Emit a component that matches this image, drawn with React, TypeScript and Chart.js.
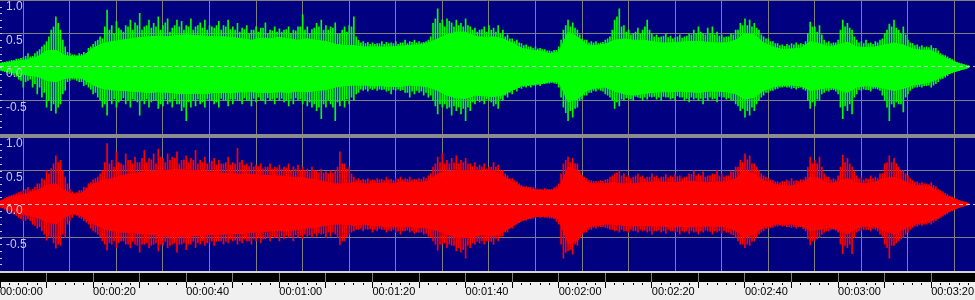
import React, { useEffect, useRef } from 'react';
import { Chart, registerables } from 'chart.js';

Chart.register(...registerables);

// ---------- axis definitions ----------
const X_MAX_S = 209.4;
const GRID_SECONDS = [0, 10, 20, 30, 40, 50, 60, 70, 80, 90, 100, 110, 120, 130, 140, 150, 160, 170, 180, 190, 200];
const LABEL_SECONDS = [0, 20, 40, 60, 80, 100, 120, 140, 160, 180, 200];
const TIME_LABELS = ['00:00:00', '00:00:20', '00:00:40', '00:01:00', '00:01:20', '00:01:40', '00:02:00', '00:02:20', '00:02:40', '00:03:00', '00:03:20'];
const Y_TICKS = [1, 0.5, 0, -0.5];
const Y_TICK_LABELS = ['1.0', '0.5', '0.0', '-0.5'];

const PEAK_STEP_S = 1; // spike samples: one per second, plus one at each half second
const HALF_OFFSET_S = 0.5;
const BODY_STEP_S = 2; // dense body envelope, one per two seconds

// ---------- left channel (green) ----------
const leftPeakTop = [
  0.06, 0.07, 0.09, 0.1, 0.12, 0.14, 0.2, 0.16, 0.23, 0.3,
  0.38, 0.55, 0.75, 0.55, 0.3, 0.2, 0.18, 0.2, 0.22, 0.28,
  0.34, 0.4, 0.42, 0.85, 0.62, 0.68, 0.55, 0.62, 0.7, 0.66,
  0.8, 0.6, 0.7, 0.65, 0.75, 0.62, 0.72, 0.58, 0.7, 0.68,
  0.62, 0.72, 0.6, 0.66, 0.7, 0.62, 0.58, 0.68, 0.62, 0.7,
  0.6, 0.65, 0.58, 0.62, 0.55, 0.6, 0.58, 0.66, 0.55, 0.6,
  0.57, 0.55, 0.6, 0.55, 0.6, 0.78, 0.6, 0.56, 0.65, 0.7,
  0.62, 0.6, 0.66, 0.5, 0.6, 0.62, 0.75, 0.4, 0.38, 0.37,
  0.36, 0.35, 0.38, 0.37, 0.36, 0.38, 0.36, 0.4, 0.38, 0.4,
  0.38, 0.37, 0.4, 0.65, 0.87, 0.7, 0.72, 0.66, 0.7, 0.65,
  0.72, 0.6, 0.58, 0.55, 0.6, 0.62, 0.58, 0.62, 0.55, 0.48,
  0.42, 0.4, 0.35, 0.33, 0.3, 0.3, 0.28, 0.26, 0.24, 0.25,
  0.3, 0.55, 0.7, 0.66, 0.55, 0.42, 0.4, 0.38, 0.38, 0.36,
  0.4, 0.45, 0.7, 0.87, 0.62, 0.55, 0.5, 0.58, 0.55, 0.7,
  0.5, 0.48, 0.45, 0.5, 0.46, 0.44, 0.48, 0.45, 0.5, 0.55,
  0.6, 0.5, 0.58, 0.6, 0.52, 0.48, 0.45, 0.5, 0.55, 0.65,
  0.72, 0.7, 0.65, 0.55, 0.45, 0.42, 0.38, 0.35, 0.33, 0.34,
  0.35, 0.36, 0.35, 0.38, 0.67, 0.6, 0.62, 0.4, 0.38, 0.36,
  0.4, 0.7, 0.65, 0.55, 0.4, 0.38, 0.4, 0.36, 0.38, 0.4,
  0.5, 0.64, 0.7, 0.55, 0.6, 0.4, 0.35, 0.33, 0.32, 0.3,
  0.32, 0.28, 0.2, 0.17, 0.13, 0.09, 0.06, 0.04, 0.02,
];
const leftPeakBottom = [
  -0.05, -0.07, -0.1, -0.12, -0.18, -0.3, -0.2, -0.3, -0.4, -0.45,
  -0.6, -0.65, -0.69, -0.55, -0.35, -0.2, -0.18, -0.22, -0.28, -0.3,
  -0.4, -0.45, -0.6, -0.72, -0.55, -0.6, -0.5, -0.55, -0.6, -0.5,
  -0.72, -0.55, -0.6, -0.5, -0.62, -0.58, -0.55, -0.6, -0.55, -0.65,
  -0.8, -0.6, -0.58, -0.55, -0.6, -0.5, -0.55, -0.6, -0.5, -0.58,
  -0.55, -0.5, -0.55, -0.5, -0.58, -0.52, -0.5, -0.55, -0.5, -0.55,
  -0.5, -0.52, -0.58, -0.55, -0.5, -0.55, -0.58, -0.6, -0.65, -0.77,
  -0.6, -0.55, -0.8, -0.58, -0.6, -0.55, -0.5, -0.38, -0.35, -0.36,
  -0.34, -0.35, -0.34, -0.36, -0.4, -0.35, -0.35, -0.38, -0.45, -0.4,
  -0.38, -0.42, -0.45, -0.5, -0.7, -0.6, -0.62, -0.72, -0.65, -0.7,
  -0.8, -0.65, -0.55, -0.52, -0.55, -0.5, -0.58, -0.62, -0.5, -0.45,
  -0.4, -0.36, -0.32, -0.3, -0.3, -0.28, -0.28, -0.25, -0.24, -0.24,
  -0.3, -0.6, -0.8, -0.75, -0.6, -0.48, -0.42, -0.38, -0.36, -0.35,
  -0.4, -0.45, -0.62, -0.58, -0.5, -0.48, -0.5, -0.45, -0.5, -0.48,
  -0.45, -0.48, -0.5, -0.45, -0.48, -0.5, -0.45, -0.5, -0.52, -0.48,
  -0.5, -0.55, -0.5, -0.48, -0.52, -0.45, -0.48, -0.5, -0.55, -0.65,
  -0.75, -0.72, -0.65, -0.5, -0.42, -0.38, -0.35, -0.32, -0.3, -0.3,
  -0.32, -0.33, -0.3, -0.35, -0.62, -0.58, -0.5, -0.38, -0.36, -0.34,
  -0.4, -0.77, -0.65, -0.7, -0.4, -0.35, -0.34, -0.36, -0.32, -0.35,
  -0.5, -0.8, -0.6, -0.55, -0.67, -0.4, -0.32, -0.3, -0.3, -0.28,
  -0.3, -0.25, -0.18, -0.15, -0.1, -0.07, -0.05, -0.03, -0.01,
];
const leftHalfTop = [
  0.07, 0.08, 0.1, 0.12, 0.13, 0.16, 0.15, 0.2, 0.26, 0.33,
  0.45, 0.6, 0.65, 0.4, 0.22, 0.18, 0.17, 0.19, 0.2, 0.3,
  0.38, 0.45, 0.6, 0.55, 0.5, 0.58, 0.52, 0.6, 0.55, 0.62,
  0.55, 0.62, 0.58, 0.6, 0.55, 0.66, 0.52, 0.62, 0.6, 0.55,
  0.6, 0.55, 0.62, 0.58, 0.55, 0.6, 0.62, 0.55, 0.6, 0.56,
  0.55, 0.52, 0.56, 0.5, 0.55, 0.52, 0.58, 0.5, 0.54, 0.52,
  0.52, 0.56, 0.5, 0.54, 0.6, 0.55, 0.5, 0.58, 0.6, 0.55,
  0.55, 0.58, 0.5, 0.55, 0.52, 0.6, 0.45, 0.36, 0.35, 0.34,
  0.34, 0.35, 0.34, 0.35, 0.35, 0.34, 0.36, 0.35, 0.37, 0.36,
  0.36, 0.38, 0.45, 0.72, 0.65, 0.6, 0.68, 0.6, 0.62, 0.6,
  0.62, 0.55, 0.52, 0.56, 0.52, 0.55, 0.52, 0.5, 0.45, 0.42,
  0.38, 0.36, 0.32, 0.3, 0.28, 0.27, 0.26, 0.24, 0.23, 0.25,
  0.4, 0.62, 0.6, 0.58, 0.48, 0.4, 0.36, 0.36, 0.35, 0.37,
  0.42, 0.55, 0.75, 0.6, 0.52, 0.48, 0.52, 0.5, 0.6, 0.55,
  0.45, 0.44, 0.46, 0.44, 0.42, 0.45, 0.43, 0.46, 0.48, 0.5,
  0.52, 0.48, 0.5, 0.48, 0.46, 0.44, 0.45, 0.48, 0.55, 0.62,
  0.62, 0.6, 0.58, 0.48, 0.42, 0.38, 0.35, 0.32, 0.31, 0.32,
  0.33, 0.33, 0.34, 0.5, 0.6, 0.52, 0.48, 0.36, 0.35, 0.36,
  0.55, 0.6, 0.58, 0.45, 0.36, 0.35, 0.35, 0.34, 0.36, 0.42,
  0.55, 0.6, 0.58, 0.5, 0.48, 0.36, 0.32, 0.3, 0.29, 0.29,
  0.28, 0.24, 0.18, 0.15, 0.11, 0.07, 0.05, 0.03,
];
const leftHalfBottom = [
  -0.06, -0.08, -0.11, -0.14, -0.2, -0.22, -0.18, -0.25, -0.3, -0.38,
  -0.5, -0.55, -0.6, -0.4, -0.22, -0.18, -0.2, -0.22, -0.26, -0.33,
  -0.38, -0.5, -0.55, -0.5, -0.48, -0.52, -0.46, -0.5, -0.48, -0.52,
  -0.5, -0.48, -0.52, -0.5, -0.55, -0.48, -0.52, -0.48, -0.55, -0.6,
  -0.52, -0.5, -0.48, -0.52, -0.48, -0.5, -0.52, -0.47, -0.5, -0.48,
  -0.48, -0.5, -0.46, -0.5, -0.47, -0.45, -0.5, -0.46, -0.48, -0.46,
  -0.47, -0.5, -0.48, -0.46, -0.48, -0.5, -0.52, -0.55, -0.6, -0.55,
  -0.5, -0.6, -0.52, -0.5, -0.48, -0.45, -0.4, -0.33, -0.33, -0.32,
  -0.32, -0.33, -0.33, -0.35, -0.34, -0.33, -0.34, -0.38, -0.36, -0.35,
  -0.36, -0.38, -0.42, -0.58, -0.55, -0.55, -0.6, -0.58, -0.6, -0.62,
  -0.6, -0.52, -0.5, -0.5, -0.48, -0.52, -0.55, -0.48, -0.42, -0.38,
  -0.34, -0.31, -0.29, -0.28, -0.27, -0.26, -0.25, -0.24, -0.23, -0.25,
  -0.45, -0.68, -0.65, -0.62, -0.5, -0.42, -0.38, -0.35, -0.33, -0.36,
  -0.42, -0.5, -0.52, -0.48, -0.46, -0.48, -0.44, -0.46, -0.45, -0.44,
  -0.44, -0.45, -0.44, -0.45, -0.46, -0.43, -0.45, -0.47, -0.45, -0.46,
  -0.47, -0.46, -0.45, -0.47, -0.44, -0.45, -0.46, -0.5, -0.58, -0.62,
  -0.65, -0.6, -0.55, -0.45, -0.38, -0.35, -0.33, -0.3, -0.29, -0.3,
  -0.31, -0.31, -0.33, -0.5, -0.52, -0.48, -0.4, -0.35, -0.34, -0.36,
  -0.6, -0.58, -0.55, -0.45, -0.34, -0.33, -0.34, -0.32, -0.33, -0.42,
  -0.6, -0.55, -0.52, -0.55, -0.45, -0.35, -0.3, -0.29, -0.28, -0.27,
  -0.27, -0.22, -0.17, -0.13, -0.09, -0.06, -0.04, -0.02,
];
const leftBodyTop = [
  0.05, 0.07, 0.09, 0.11, 0.15, 0.24, 0.25, 0.17, 0.15, 0.17,
  0.28, 0.35, 0.38, 0.4, 0.42, 0.44, 0.45, 0.46, 0.45, 0.47,
  0.48, 0.47, 0.46, 0.45, 0.45, 0.44, 0.42, 0.4, 0.43, 0.42,
  0.44, 0.42, 0.4, 0.42, 0.4, 0.38, 0.34, 0.32, 0.32, 0.3,
  0.3, 0.3, 0.3, 0.31, 0.32, 0.33, 0.36, 0.42, 0.48, 0.52,
  0.52, 0.46, 0.44, 0.45, 0.42, 0.36, 0.28, 0.25, 0.24, 0.2,
  0.22, 0.52, 0.45, 0.33, 0.32, 0.34, 0.4, 0.42, 0.4, 0.4,
  0.38, 0.36, 0.36, 0.37, 0.38, 0.38, 0.37, 0.36, 0.36, 0.4,
  0.5, 0.48, 0.36, 0.3, 0.26, 0.27, 0.28, 0.38, 0.35, 0.3,
  0.33, 0.37, 0.3, 0.29, 0.3, 0.33, 0.36, 0.33, 0.27, 0.25,
  0.25, 0.17, 0.11, 0.05, 0.01,
];
const leftBodyBottom = [
  -0.04, -0.07, -0.1, -0.12, -0.14, -0.2, -0.22, -0.17, -0.15, -0.18,
  -0.27, -0.32, -0.34, -0.35, -0.36, -0.37, -0.38, -0.37, -0.38, -0.39,
  -0.4, -0.39, -0.4, -0.38, -0.38, -0.38, -0.37, -0.37, -0.38, -0.38,
  -0.37, -0.38, -0.36, -0.37, -0.35, -0.34, -0.3, -0.28, -0.27, -0.27,
  -0.28, -0.28, -0.29, -0.29, -0.27, -0.28, -0.3, -0.35, -0.42, -0.46,
  -0.47, -0.42, -0.43, -0.44, -0.42, -0.34, -0.28, -0.26, -0.25, -0.22,
  -0.22, -0.52, -0.48, -0.35, -0.31, -0.3, -0.36, -0.4, -0.42, -0.4,
  -0.38, -0.37, -0.37, -0.36, -0.37, -0.38, -0.36, -0.36, -0.37, -0.4,
  -0.48, -0.45, -0.35, -0.3, -0.27, -0.27, -0.28, -0.35, -0.33, -0.3,
  -0.33, -0.38, -0.3, -0.28, -0.29, -0.32, -0.35, -0.32, -0.27, -0.25,
  -0.22, -0.15, -0.09, -0.05, -0.01,
];

// ---------- right channel (red) ----------
const rightPeakTop = [
  0.05, 0.08, 0.12, 0.14, 0.17, 0.2, 0.25, 0.22, 0.3, 0.38,
  0.5, 0.53, 0.72, 0.65, 0.4, 0.22, 0.16, 0.2, 0.25, 0.3,
  0.36, 0.4, 0.5, 0.9, 0.65, 0.78, 0.6, 0.75, 0.65, 0.7,
  0.62, 0.8, 0.68, 0.75, 0.82, 0.68, 0.75, 0.7, 0.78, 0.65,
  0.72, 0.68, 0.8, 0.65, 0.7, 0.62, 0.68, 0.65, 0.6, 0.7,
  0.62, 0.83, 0.65, 0.6, 0.62, 0.58, 0.6, 0.55, 0.6, 0.55,
  0.58, 0.55, 0.6, 0.56, 0.58, 0.55, 0.52, 0.55, 0.5, 0.52,
  0.48, 0.5, 0.5, 0.78, 0.6, 0.55, 0.4, 0.38, 0.37, 0.38,
  0.36, 0.38, 0.37, 0.4, 0.37, 0.38, 0.4, 0.38, 0.4, 0.37,
  0.38, 0.4, 0.42, 0.55, 0.7, 0.76, 0.65, 0.68, 0.72, 0.65,
  0.68, 0.6, 0.62, 0.58, 0.6, 0.55, 0.62, 0.58, 0.5, 0.42,
  0.38, 0.33, 0.28, 0.26, 0.25, 0.24, 0.22, 0.23, 0.22, 0.24,
  0.3, 0.6, 0.7, 0.68, 0.6, 0.42, 0.38, 0.35, 0.34, 0.35,
  0.36, 0.4, 0.45, 0.5, 0.45, 0.42, 0.4, 0.45, 0.42, 0.4,
  0.45, 0.42, 0.4, 0.44, 0.42, 0.45, 0.42, 0.4, 0.45, 0.5,
  0.45, 0.48, 0.42, 0.45, 0.5, 0.45, 0.42, 0.48, 0.55, 0.65,
  0.75, 0.72, 0.6, 0.5, 0.42, 0.38, 0.35, 0.33, 0.34, 0.36,
  0.38, 0.35, 0.36, 0.4, 0.7, 0.65, 0.7, 0.45, 0.4, 0.38,
  0.42, 0.73, 0.68, 0.55, 0.42, 0.4, 0.38, 0.42, 0.4, 0.45,
  0.6, 0.72, 0.68, 0.55, 0.5, 0.42, 0.35, 0.33, 0.32, 0.3,
  0.32, 0.26, 0.2, 0.16, 0.12, 0.08, 0.05, 0.03, 0.01,
];
const rightPeakBottom = [
  -0.05, -0.08, -0.12, -0.15, -0.2, -0.25, -0.22, -0.3, -0.36, -0.4,
  -0.54, -0.5, -0.66, -0.62, -0.5, -0.25, -0.16, -0.2, -0.25, -0.3,
  -0.4, -0.45, -0.55, -0.69, -0.6, -0.65, -0.55, -0.6, -0.65, -0.6,
  -0.72, -0.6, -0.65, -0.6, -0.7, -0.62, -0.65, -0.6, -0.72, -0.6,
  -0.68, -0.6, -0.65, -0.6, -0.62, -0.58, -0.62, -0.55, -0.6, -0.58,
  -0.55, -0.6, -0.58, -0.55, -0.6, -0.55, -0.58, -0.52, -0.55, -0.5,
  -0.55, -0.52, -0.5, -0.55, -0.5, -0.52, -0.48, -0.5, -0.48, -0.45,
  -0.5, -0.48, -0.45, -0.61, -0.55, -0.45, -0.4, -0.38, -0.4, -0.38,
  -0.42, -0.4, -0.38, -0.42, -0.4, -0.42, -0.45, -0.4, -0.42, -0.44,
  -0.42, -0.45, -0.48, -0.55, -0.69, -0.6, -0.65, -0.62, -0.7, -0.72,
  -0.81, -0.65, -0.6, -0.58, -0.6, -0.55, -0.6, -0.55, -0.48, -0.42,
  -0.36, -0.3, -0.26, -0.24, -0.22, -0.2, -0.2, -0.2, -0.21, -0.22,
  -0.3, -0.81, -0.7, -0.75, -0.62, -0.45, -0.42, -0.38, -0.36, -0.34,
  -0.35, -0.38, -0.4, -0.42, -0.4, -0.42, -0.4, -0.42, -0.4, -0.42,
  -0.45, -0.4, -0.42, -0.44, -0.4, -0.42, -0.45, -0.42, -0.44, -0.42,
  -0.45, -0.42, -0.4, -0.45, -0.42, -0.44, -0.42, -0.45, -0.5, -0.6,
  -0.65, -0.62, -0.55, -0.45, -0.4, -0.36, -0.35, -0.33, -0.33, -0.34,
  -0.35, -0.36, -0.34, -0.4, -0.61, -0.55, -0.5, -0.42, -0.4, -0.38,
  -0.42, -0.74, -0.65, -0.74, -0.42, -0.4, -0.38, -0.4, -0.38, -0.45,
  -0.6, -0.81, -0.62, -0.55, -0.5, -0.42, -0.35, -0.33, -0.32, -0.3,
  -0.3, -0.25, -0.2, -0.16, -0.12, -0.08, -0.05, -0.03, -0.01,
];
const rightHalfTop = [
  0.06, 0.1, 0.13, 0.15, 0.18, 0.22, 0.2, 0.25, 0.3, 0.36,
  0.45, 0.6, 0.62, 0.5, 0.3, 0.18, 0.17, 0.2, 0.24, 0.32,
  0.38, 0.45, 0.62, 0.6, 0.55, 0.62, 0.58, 0.65, 0.6, 0.62,
  0.68, 0.62, 0.66, 0.6, 0.7, 0.62, 0.65, 0.68, 0.6, 0.66,
  0.62, 0.65, 0.6, 0.62, 0.6, 0.64, 0.58, 0.6, 0.62, 0.58,
  0.6, 0.62, 0.58, 0.56, 0.55, 0.56, 0.52, 0.55, 0.52, 0.54,
  0.52, 0.54, 0.5, 0.52, 0.5, 0.5, 0.48, 0.5, 0.47, 0.46,
  0.45, 0.46, 0.55, 0.6, 0.52, 0.45, 0.36, 0.35, 0.36, 0.35,
  0.35, 0.36, 0.35, 0.36, 0.35, 0.37, 0.36, 0.37, 0.36, 0.36,
  0.37, 0.38, 0.45, 0.6, 0.62, 0.6, 0.6, 0.62, 0.6, 0.62,
  0.6, 0.56, 0.55, 0.55, 0.52, 0.55, 0.55, 0.5, 0.45, 0.38,
  0.35, 0.3, 0.26, 0.25, 0.24, 0.22, 0.21, 0.22, 0.22, 0.26,
  0.45, 0.65, 0.62, 0.6, 0.5, 0.4, 0.35, 0.34, 0.33, 0.34,
  0.37, 0.42, 0.46, 0.42, 0.4, 0.38, 0.42, 0.4, 0.38, 0.4,
  0.4, 0.38, 0.4, 0.39, 0.4, 0.41, 0.38, 0.4, 0.44, 0.42,
  0.42, 0.4, 0.42, 0.44, 0.42, 0.4, 0.42, 0.48, 0.55, 0.62,
  0.66, 0.6, 0.55, 0.45, 0.4, 0.36, 0.33, 0.32, 0.33, 0.34,
  0.34, 0.34, 0.36, 0.55, 0.6, 0.6, 0.55, 0.4, 0.36, 0.36,
  0.55, 0.62, 0.6, 0.48, 0.38, 0.36, 0.37, 0.38, 0.38, 0.45,
  0.62, 0.62, 0.6, 0.5, 0.45, 0.38, 0.33, 0.31, 0.3, 0.29,
  0.28, 0.22, 0.18, 0.14, 0.1, 0.07, 0.04, 0.02,
];
const rightHalfBottom = [
  -0.06, -0.1, -0.14, -0.17, -0.22, -0.24, -0.25, -0.32, -0.34, -0.45,
  -0.48, -0.58, -0.6, -0.45, -0.3, -0.2, -0.17, -0.22, -0.27, -0.36,
  -0.42, -0.5, -0.6, -0.58, -0.55, -0.58, -0.55, -0.6, -0.56, -0.62,
  -0.6, -0.58, -0.62, -0.58, -0.6, -0.56, -0.62, -0.58, -0.6, -0.58,
  -0.6, -0.56, -0.58, -0.55, -0.58, -0.55, -0.56, -0.55, -0.56, -0.52,
  -0.54, -0.55, -0.52, -0.55, -0.52, -0.5, -0.52, -0.5, -0.48, -0.5,
  -0.48, -0.47, -0.48, -0.46, -0.47, -0.45, -0.46, -0.44, -0.43, -0.44,
  -0.42, -0.42, -0.5, -0.55, -0.5, -0.42, -0.38, -0.36, -0.37, -0.37,
  -0.38, -0.37, -0.38, -0.39, -0.38, -0.4, -0.4, -0.39, -0.4, -0.42,
  -0.42, -0.44, -0.5, -0.6, -0.6, -0.58, -0.6, -0.62, -0.65, -0.68,
  -0.62, -0.58, -0.56, -0.55, -0.55, -0.56, -0.52, -0.48, -0.42, -0.36,
  -0.32, -0.28, -0.24, -0.22, -0.21, -0.19, -0.19, -0.2, -0.21, -0.26,
  -0.6, -0.72, -0.68, -0.6, -0.5, -0.42, -0.38, -0.35, -0.33, -0.34,
  -0.36, -0.38, -0.39, -0.38, -0.4, -0.38, -0.4, -0.38, -0.39, -0.4,
  -0.4, -0.39, -0.4, -0.38, -0.4, -0.41, -0.4, -0.4, -0.4, -0.41,
  -0.4, -0.39, -0.41, -0.4, -0.4, -0.4, -0.42, -0.46, -0.55, -0.6,
  -0.6, -0.56, -0.5, -0.42, -0.37, -0.35, -0.33, -0.32, -0.32, -0.34,
  -0.34, -0.34, -0.37, -0.52, -0.55, -0.52, -0.45, -0.4, -0.38, -0.39,
  -0.6, -0.62, -0.6, -0.5, -0.4, -0.38, -0.38, -0.37, -0.4, -0.48,
  -0.65, -0.62, -0.58, -0.52, -0.45, -0.38, -0.33, -0.31, -0.3, -0.28,
  -0.27, -0.22, -0.18, -0.14, -0.1, -0.07, -0.04, -0.02,
];
const rightBodyTop = [
  0.04, 0.1, 0.12, 0.16, 0.2, 0.28, 0.3, 0.2, 0.13, 0.18,
  0.3, 0.35, 0.38, 0.42, 0.45, 0.47, 0.48, 0.5, 0.5, 0.52,
  0.5, 0.5, 0.48, 0.47, 0.46, 0.45, 0.44, 0.44, 0.43, 0.42,
  0.42, 0.4, 0.4, 0.38, 0.36, 0.33, 0.3, 0.3, 0.32, 0.3,
  0.3, 0.31, 0.3, 0.32, 0.33, 0.32, 0.34, 0.45, 0.48, 0.5,
  0.5, 0.5, 0.48, 0.5, 0.42, 0.33, 0.25, 0.22, 0.2, 0.2,
  0.22, 0.55, 0.5, 0.32, 0.3, 0.3, 0.32, 0.3, 0.3, 0.32,
  0.33, 0.33, 0.32, 0.33, 0.34, 0.33, 0.32, 0.33, 0.33, 0.38,
  0.5, 0.45, 0.35, 0.3, 0.27, 0.27, 0.3, 0.4, 0.38, 0.3,
  0.33, 0.38, 0.32, 0.3, 0.33, 0.38, 0.4, 0.35, 0.28, 0.27,
  0.26, 0.15, 0.1, 0.05, 0.01,
];
const rightBodyBottom = [
  -0.04, -0.08, -0.14, -0.17, -0.2, -0.27, -0.3, -0.2, -0.13, -0.2,
  -0.3, -0.36, -0.4, -0.42, -0.42, -0.44, -0.45, -0.47, -0.48, -0.48,
  -0.48, -0.47, -0.46, -0.45, -0.45, -0.44, -0.44, -0.42, -0.42, -0.4,
  -0.4, -0.4, -0.38, -0.36, -0.34, -0.32, -0.3, -0.3, -0.32, -0.3,
  -0.32, -0.33, -0.34, -0.34, -0.34, -0.35, -0.36, -0.4, -0.45, -0.5,
  -0.5, -0.48, -0.45, -0.48, -0.42, -0.33, -0.25, -0.2, -0.18, -0.18,
  -0.22, -0.6, -0.55, -0.35, -0.32, -0.3, -0.3, -0.32, -0.33, -0.32,
  -0.33, -0.33, -0.34, -0.33, -0.34, -0.34, -0.33, -0.33, -0.34, -0.4,
  -0.5, -0.45, -0.35, -0.3, -0.3, -0.3, -0.32, -0.4, -0.38, -0.35,
  -0.38, -0.45, -0.35, -0.33, -0.34, -0.4, -0.45, -0.38, -0.3, -0.28,
  -0.25, -0.18, -0.1, -0.05, -0.01,
];

// ---------- styles ----------
const W = 975;
const H = 300;
const NAVY = '#000080';
const GREEN = '#00ff00';
const RED = '#ff0000';
const GRID = '#808080';
const SEPARATOR = '#8c8c8c';
const LABEL_LAV = '#c8c8f0';
const ZERO_LINE = '#c8c8c8';
const PANEL_BG = '#f0f0f0';
const FONT = "'Liberation Sans', Arial, sans-serif";

const spikePoints = (top: number[], bottom: number[], offset: number) =>
  top.map((hi, i) => ({ x: i * PEAK_STEP_S + offset, y: [bottom[i], hi] }));
const bodyPoints = (vals: number[]) => vals.map((v, i) => ({ x: i * BODY_STEP_S, y: v }));

const decorPlugin = {
  id: 'waveDecor',
  beforeDraw(chart: any) {
    const { ctx, chartArea, scales } = chart;
    const xs = scales.x;
    const b = Math.round(chartArea.bottom);
    ctx.save();
    ctx.fillStyle = NAVY;
    ctx.fillRect(0, 0, W, b);
    ctx.fillStyle = '#d4d4d4';
    ctx.fillRect(0, b, W, 2);
    ctx.fillStyle = '#000000';
    ctx.fillRect(0, b + 2, W, 9);
    ctx.fillStyle = PANEL_BG;
    ctx.fillRect(0, b + 11, W, H - b - 11);
    ctx.fillStyle = GRID;
    for (const s of GRID_SECONDS) {
      if (s === 0) continue;
      const px = Math.round(xs.getPixelForValue(s) - 0.5);
      ctx.fillRect(px, b + 2, 1, 9);
    }
    ctx.fillStyle = '#000000';
    for (let s = 0; s <= X_MAX_S; s += 2) {
      const px = Math.round(xs.getPixelForValue(s) - 0.5);
      if (s % 10 === 0) ctx.fillRect(px, b + 11, 1, 6);
      else ctx.fillRect(px, b + 12, 1, 2);
    }
    ctx.restore();
  },
  afterDatasetsDraw(chart: any) {
    const { ctx, scales } = chart;
    ctx.save();
    ctx.strokeStyle = ZERO_LINE;
    ctx.lineWidth = 1;
    ctx.setLineDash([4, 3]);
    for (const id of ['yL', 'yR']) {
      const py = Math.round(scales[id].getPixelForValue(0) - 0.5) + 0.5;
      ctx.beginPath();
      ctx.moveTo(0, py);
      ctx.lineTo(W, py);
      ctx.stroke();
    }
    ctx.setLineDash([]);
    const sepTop = Math.round(scales.yL.getPixelForValue(-1));
    ctx.fillStyle = SEPARATOR;
    ctx.fillRect(0, sepTop, W, 4);
    ctx.fillStyle = LABEL_LAV;
    for (const id of ['yL', 'yR']) {
      for (let k = -9; k <= 9; k++) {
        const py = Math.round(scales[id].getPixelForValue(k / 10));
        ctx.fillRect(0, py, 2, 1);
      }
    }
    ctx.restore();
  },
};

const yAxis = (weight: number, min: number, max: number) => ({
  type: 'linear',
  position: 'left',
  stack: 'channels',
  stackWeight: 1,
  weight,
  min,
  max,
  afterBuildTicks: (s: any) => {
    s.ticks = Y_TICKS.map((v) => ({ value: v }));
  },
  afterFit: (s: any) => {
    s.width = 0;
    s.paddingTop = 0;
    s.paddingBottom = 0;
  },
  grid: {
    color: (c: any) => (c.tick && c.tick.value === 0 ? 'rgba(0,0,0,0)' : GRID),
    drawTicks: false,
    lineWidth: 1,
  },
  border: { display: false },
  ticks: {
    mirror: true,
    z: 1,
    padding: 6,
    labelOffset: 7,
    color: LABEL_LAV,
    font: { family: FONT, size: 12 },
    callback: (v: number) => {
      const i = Y_TICKS.indexOf(v);
      return i >= 0 ? Y_TICK_LABELS[i] : '';
    },
  },
});

const bodyDataset = (label: string, vals: number[], axis: string, color: string, fill: any) => ({
  type: 'line',
  label,
  data: bodyPoints(vals),
  yAxisID: axis,
  borderColor: color,
  backgroundColor: color,
  borderWidth: 1,
  pointRadius: 0,
  tension: 0,
  fill,
});
const spikeDataset = (label: string, top: number[], bottom: number[], offset: number, axis: string, color: string) => ({
  type: 'bar',
  label,
  data: spikePoints(top, bottom, offset),
  yAxisID: axis,
  backgroundColor: color,
  barThickness: 1,
  grouped: false,
});

export default function App() {
  const ref = useRef<HTMLCanvasElement>(null);
  useEffect(() => {
    document.body.style.margin = '0';
    const chart = new Chart(ref.current as HTMLCanvasElement, {
      type: 'bar',
      data: {
        datasets: [
          bodyDataset('L body top', leftBodyTop, 'yL', GREEN, '+1'),
          bodyDataset('L body bottom', leftBodyBottom, 'yL', GREEN, false),
          spikeDataset('L peaks', leftPeakTop, leftPeakBottom, 0, 'yL', GREEN),
          spikeDataset('L half peaks', leftHalfTop, leftHalfBottom, HALF_OFFSET_S, 'yL', GREEN),
          bodyDataset('R body top', rightBodyTop, 'yR', RED, '+1'),
          bodyDataset('R body bottom', rightBodyBottom, 'yR', RED, false),
          spikeDataset('R peaks', rightPeakTop, rightPeakBottom, 0, 'yR', RED),
          spikeDataset('R half peaks', rightHalfTop, rightHalfBottom, HALF_OFFSET_S, 'yR', RED),
        ] as any,
      },
      options: {
        responsive: false,
        animation: false,
        events: [],
        layout: { padding: 0 },
        plugins: { legend: { display: false }, tooltip: { enabled: false } },
        scales: {
          x: {
            type: 'linear',
            min: 0,
            max: X_MAX_S,
            offset: false,
            afterBuildTicks: (s: any) => {
              s.ticks = GRID_SECONDS.map((v) => ({ value: v }));
            },
            afterFit: (s: any) => {
              s.height = 29;
              s.paddingLeft = 0;
              s.paddingRight = 0;
            },
            grid: {
              color: (c: any) => (c.tick && c.tick.value === 0 ? 'rgba(0,0,0,0)' : GRID),
              drawTicks: false,
              lineWidth: 1,
            },
            border: { display: false },
            ticks: {
              autoSkip: false,
              maxRotation: 0,
              align: 'start',
              padding: 14,
              color: '#000000',
              font: { family: FONT, size: 11 },
              callback: (v: number) => {
                const i = LABEL_SECONDS.indexOf(v);
                return i >= 0 ? TIME_LABELS[i] : '';
              },
            },
          },
          yL: yAxis(2, -1.0224, 1),
          yR: yAxis(1, -1, 1.0224),
        } as any,
      },
      plugins: [decorPlugin],
    } as any);
    return () => chart.destroy();
  }, []);
  return (
    <div style={{ position: 'fixed', left: 0, top: 0, width: W, height: H, background: PANEL_BG }}>
      <canvas ref={ref} width={W} height={H} style={{ display: 'block', width: W, height: H }} />
    </div>
  );
}
